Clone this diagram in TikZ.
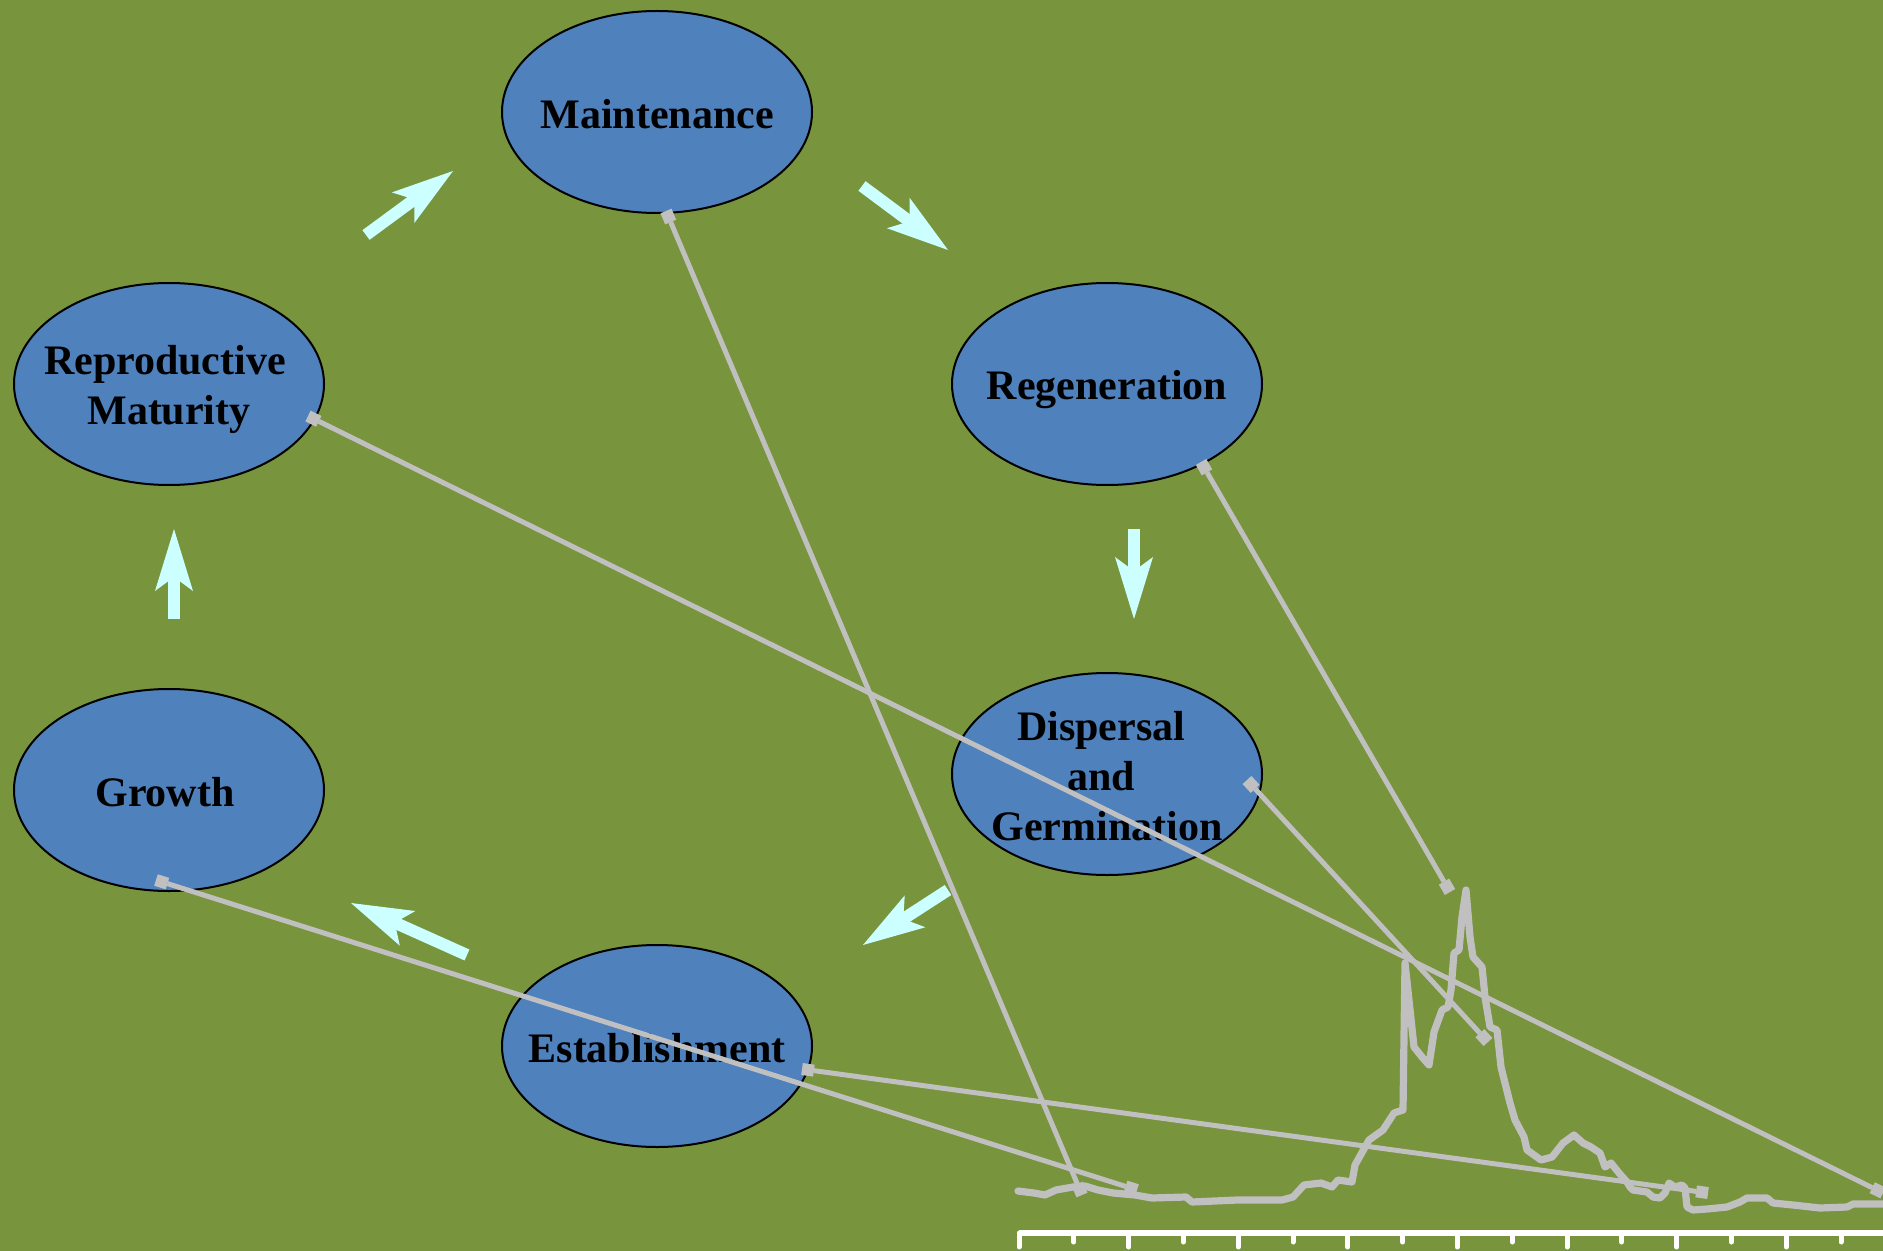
\documentclass[tikz,border=0pt]{standalone}
\usepackage{fontspec}
\setmainfont{Liberation Serif}
\usetikzlibrary{shapes.geometric,arrows.meta}
\definecolor{fieldgreen}{RGB}{120,148,60}
\definecolor{stageblue}{RGB}{79,129,189}
\definecolor{cyclecyan}{RGB}{204,255,255}
\definecolor{pingray}{RGB}{192,192,192}
\newcommand{\stagestrut}{\rule[-0.15em]{0pt}{1.1em}}
\begin{document}
\begin{tikzpicture}[x=0.5pt,y=-0.5pt,
  stage/.style={ellipse, draw=black, line width=1pt, fill=stageblue,
    minimum width=155pt, minimum height=101pt, inner sep=-14pt,
    align=center, font=\bfseries\fontsize{21}{25}\selectfont},
  flow/.style={draw=cyclecyan, line width=6pt,
    -{Stealth[length=31pt, width=19pt, inset=7pt, line width=0pt]}},
  pin/.style={draw=pingray, line width=2.5pt,
    {Square[length=6pt, width=6pt, line width=0pt]}-{Square[length=6pt, width=6pt, line width=0pt]}},
  trace/.style={draw=pingray, line width=3.6pt, line cap=round, line join=round}]

\useasboundingbox (0, 0) rectangle (1883, 1251);
\fill[fieldgreen] (0, 0) rectangle (1883, 1251);
\clip (0, 0) rectangle (1883, 1251);

% life cycle stages
\node[stage] (maint) at (657, 112) {\stagestrut Maintenance};
\node[stage] (regen) at (1107, 384) {\stagestrut Regeneration};
\node[stage] (disp) at (1107, 774)
  {\stagestrut Dispersal\kern6pt\\and\kern6pt\\\stagestrut Germination};
\node[stage] (estab) at (657, 1046) {\stagestrut Establishment};
\node[stage] (growth) at (169, 790) {\stagestrut Growth\kern4pt};
\node[stage] (repro) at (169, 384)
  {\stagestrut Reproductive\kern4pt\\\stagestrut Maturity};

% cycle arrows
\coordinate (gr-a) at (174, 619);  \coordinate (gr-b) at (174, 529);
\coordinate (rm-a) at (366, 235);  \coordinate (rm-b) at (453, 171);
\coordinate (mr-a) at (862, 186);  \coordinate (mr-b) at (948, 250);
\coordinate (rd-a) at (1134, 529); \coordinate (rd-b) at (1134, 619);
\coordinate (de-a) at (948, 890);  \coordinate (de-b) at (863, 945);
\coordinate (eg-a) at (467, 955);  \coordinate (eg-b) at (351, 903);
\foreach \s in {gr, rm, mr, rd, de, eg}
  \draw[flow] (\s-a) -- (\s-b);

% time series
\draw[trace] plot coordinates {(1018,1191) (1034,1193) (1045,1195) (1056,1190)
  (1073,1187) (1085,1186) (1098,1190) (1113,1193) (1135,1195) (1152,1198)
  (1186,1197) (1192,1202) (1237,1200) (1282,1200) (1293,1197) (1304,1185)
  (1321,1183) (1332,1187) (1338,1180) (1352,1182) (1355,1165) (1369,1140)
  (1383,1130) (1394,1113) (1403,1110) (1405,963) (1414,1047) (1422,1057)
  (1429,1065) (1434,1032) (1442,1010) (1448,1007) (1451,990) (1454,953)
  (1459,950) (1462,917) (1466,890) (1470,937) (1473,957) (1482,967)
  (1485,997) (1490,1027) (1497,1030) (1501,1067) (1510,1103) (1515,1120)
  (1524,1137) (1527,1150) (1541,1160) (1552,1157) (1563,1143) (1574,1135)
  (1583,1143) (1591,1147) (1600,1153) (1605,1167) (1611,1163) (1619,1173)
  (1627,1182) (1630,1187) (1633,1190) (1647,1192) (1653,1197) (1660,1198)
  (1665,1193) (1669,1183) (1675,1187) (1682,1185) (1685,1188) (1687,1207)
  (1693,1210) (1707,1209) (1727,1207) (1740,1202) (1747,1198) (1767,1198)
  (1773,1203) (1793,1205) (1820,1208) (1847,1207) (1853,1204) (1883,1204)};

% time axis
\draw[white, line width=3pt] (1019, 1233) -- (1883, 1233);
\foreach \i in {0,...,15} {
  \pgfmathsetmacro{\tx}{1019 + 54.8*\i}
  \pgfmathsetmacro{\ty}{isodd(\i) ? 1242 : 1247}
  \draw[white, line width=2.5pt, line cap=round] (\tx, 1233) -- (\tx, \ty);
}

% pins from stages to the series
\coordinate (maint-pin) at (666, 211);   \coordinate (maint-t) at (1082, 1195);
\coordinate (repro-pin) at (308, 416);   \coordinate (repro-t) at (1883, 1193);
\coordinate (regen-pin) at (1201, 462);  \coordinate (regen-t) at (1450, 892);
\coordinate (disp-pin) at (1247, 780);   \coordinate (disp-t) at (1488, 1042);
\coordinate (growth-pin) at (156, 880);  \coordinate (growth-t) at (1137, 1190);
\coordinate (estab-pin) at (802, 1069);  \coordinate (estab-t) at (1708, 1193);
\foreach \s in {maint, repro, regen, disp, growth, estab}
  \draw[pin] (\s-pin) -- (\s-t);

\end{tikzpicture}
\end{document}
